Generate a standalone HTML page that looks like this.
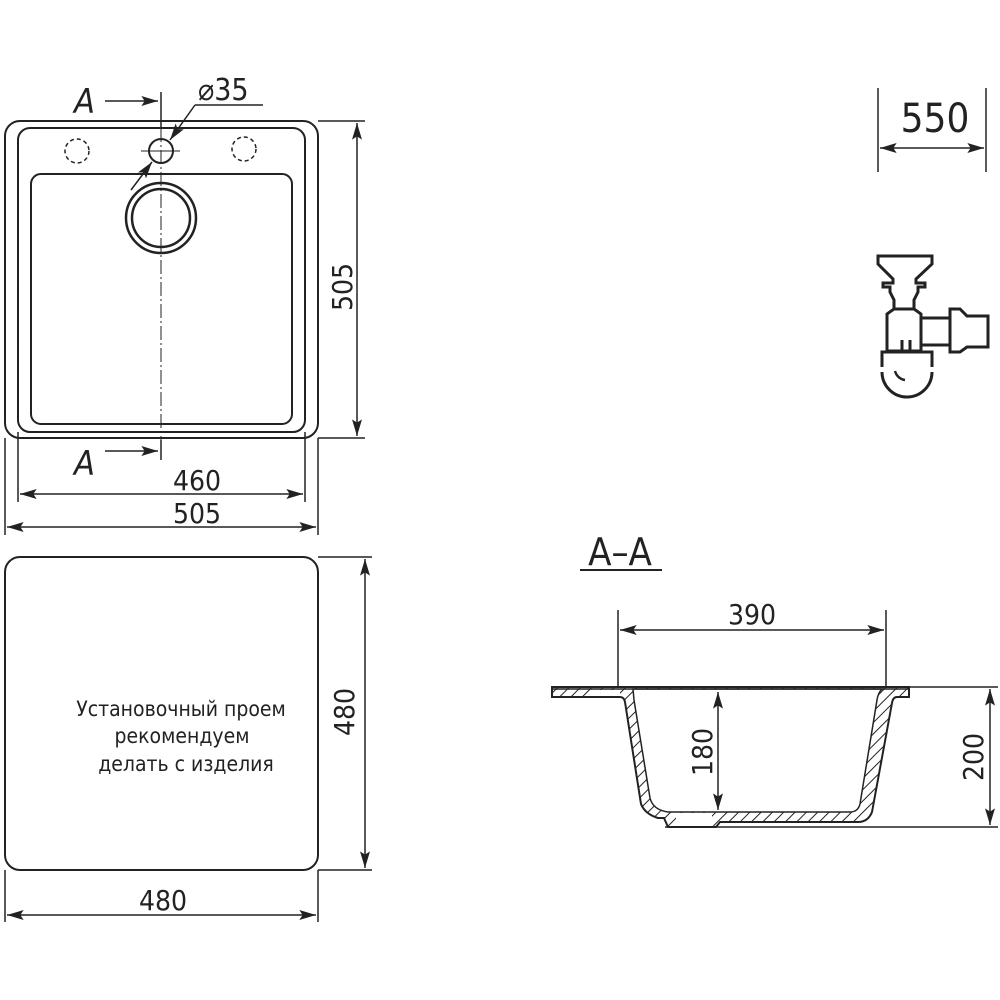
<!DOCTYPE html>
<html><head><meta charset="utf-8"><style>
html,body{margin:0;padding:0;background:#fff}
svg{display:block}
text{font-family:"DejaVu Sans Condensed","Liberation Sans Narrow","Liberation Sans",sans-serif;fill:#222}
</style></head><body>
<svg width="1000" height="1000" viewBox="0 0 1000 1000" xmlns="http://www.w3.org/2000/svg">
<defs>
<marker id="ar" viewBox="0 0 10 6" refX="10" refY="3" markerWidth="24" markerHeight="10" markerUnits="userSpaceOnUse" orient="auto-start-reverse"><path d="M0,0 L10,3 L0,6 L2,3z" fill="#222"/></marker>
<pattern id="h" width="8" height="8" patternUnits="userSpaceOnUse" patternTransform="rotate(45)"><rect width="8" height="8" fill="#fff"/><line x1="0" y1="0" x2="0" y2="8" stroke="#222" stroke-width="2"/></pattern>
</defs>
<g fill="none" stroke="#222" stroke-width="2">
<rect x="5" y="121" width="313" height="317" rx="15"/>
<rect x="18" y="128" width="287" height="304" rx="12"/>
<rect x="31" y="174" width="261" height="250" rx="10"/>
<circle cx="161" cy="218" r="35" stroke-width="2.5"/>
<circle cx="161" cy="218" r="29" stroke-width="2.5"/>
<circle cx="161" cy="151" r="12"/>
<circle cx="77" cy="151" r="12" stroke-dasharray="4,3" stroke-width="1.5"/>
<circle cx="244" cy="149" r="12" stroke-dasharray="4,3" stroke-width="1.5"/>
<line x1="161" y1="92" x2="161" y2="128" stroke-width="1.5"/>
<line x1="161" y1="128" x2="161" y2="460" stroke-width="1" stroke-dasharray="14,3,2,3"/>
<line x1="161" y1="440" x2="161" y2="460" stroke-width="1.5"/>
<line x1="141" y1="151" x2="180" y2="151" stroke-width="1"/>
<line x1="105" y1="101" x2="158" y2="101" stroke-width="1.5" marker-end="url(#ar)"/>
<line x1="105" y1="451" x2="158" y2="451" stroke-width="1.5" marker-end="url(#ar)"/>
<line x1="195" y1="105" x2="263" y2="105" stroke-width="1.5"/>
<line x1="195" y1="105" x2="170" y2="140" stroke-width="1.5" marker-end="url(#ar)"/>
<line x1="131" y1="190" x2="152" y2="162" stroke-width="1.5" marker-end="url(#ar)"/>
<line x1="318" y1="121" x2="365" y2="121" stroke-width="1.5"/>
<line x1="318" y1="438" x2="365" y2="438" stroke-width="1.5"/>
<line x1="357" y1="123" x2="357" y2="436" stroke-width="1.5" marker-start="url(#ar)" marker-end="url(#ar)"/>
<line x1="18" y1="432" x2="18" y2="502" stroke-width="1.5"/>
<line x1="305" y1="432" x2="305" y2="502" stroke-width="1.5"/>
<line x1="5" y1="438" x2="5" y2="535" stroke-width="1.5"/>
<line x1="318" y1="438" x2="318" y2="535" stroke-width="1.5"/>
<line x1="20" y1="494" x2="303" y2="494" stroke-width="1.5" marker-start="url(#ar)" marker-end="url(#ar)"/>
<line x1="7" y1="527" x2="316" y2="527" stroke-width="1.5" marker-start="url(#ar)" marker-end="url(#ar)"/>
<rect x="5" y="557" width="313" height="313" rx="15"/>
<line x1="318" y1="557" x2="372" y2="557" stroke-width="1.5"/>
<line x1="318" y1="870" x2="372" y2="870" stroke-width="1.5"/>
<line x1="365" y1="559" x2="365" y2="868" stroke-width="1.5" marker-start="url(#ar)" marker-end="url(#ar)"/>
<line x1="5" y1="870" x2="5" y2="922" stroke-width="1.5"/>
<line x1="318" y1="870" x2="318" y2="922" stroke-width="1.5"/>
<line x1="7" y1="915" x2="316" y2="915" stroke-width="1.5" marker-start="url(#ar)" marker-end="url(#ar)"/>
<line x1="878" y1="88" x2="878" y2="172" stroke-width="1.5"/>
<line x1="986" y1="88" x2="986" y2="172" stroke-width="1.5"/>
<line x1="880" y1="148" x2="984" y2="148" stroke-width="1.5" marker-start="url(#ar)" marker-end="url(#ar)"/>
<g stroke-width="3">
<path d="M878,256 L932,256 L932,264 L916,279 L916,283 L925,283 L925,287 L918,287 L918,292 L914,300 L914,309 L921,314 L921,351 L887,351 L887,314 L894,309 L894,300 L890,292 L890,287 L883,287 L883,283 L893,283 L893,279 L878,264 Z"/>
<line x1="894" y1="309" x2="914" y2="309"/>
<path d="M921,318 L950,318 L950,309 L960,309 L967,316 L988,316 L988,347 L967,347 L960,352 L950,352 L950,345 L921,345"/>
<line x1="950" y1="318" x2="950" y2="345"/>
<path d="M882,367 L882,352 L932,352 L932,367"/>
<path d="M882,372 A25,25 0 0 0 932,372"/>
<path d="M895,371 A12,12 0 0 0 905,380" stroke-width="2.5"/>
<line x1="902" y1="340" x2="902" y2="351"/>
<line x1="910" y1="340" x2="910" y2="351"/>
</g>
<line x1="580" y1="570" x2="662" y2="570" stroke-width="2"/>
<line x1="618" y1="610" x2="618" y2="690" stroke-width="1.5"/>
<line x1="886" y1="610" x2="886" y2="690" stroke-width="1.5"/>
<line x1="620" y1="630" x2="884" y2="630" stroke-width="1.5" marker-start="url(#ar)" marker-end="url(#ar)"/>
<line x1="905" y1="687" x2="998" y2="687" stroke-width="1.5"/>
<line x1="665" y1="827" x2="998" y2="827" stroke-width="1.5"/>
<line x1="990" y1="689" x2="990" y2="825" stroke-width="1.5" marker-start="url(#ar)" marker-end="url(#ar)"/>
</g>
<path d="M552,687 L909,687 L909,697 L897,697 Q893,697 892,703 L872,812 Q868,822 858,822 L720,822 L716,827 L668,827 L664,818 L658,818 Q645,814 641,804 L625,702 Q624,697 620,697 L552,697 Z" fill="url(#h)" stroke="#222" stroke-width="2"/>
<path d="M633,689 L882,689 Q878,693 877,700 L860,804 Q858,812 850,812 L668,812 Q653,810 650,798 L634,700 Z" fill="#fff" stroke="#222" stroke-width="1.5"/>
<line x1="552" y1="689" x2="909" y2="689" stroke="#222" stroke-width="1.5"/>
<rect x="594" y="690" width="26" height="6" fill="#fff" stroke="none"/>
<rect x="676" y="813" width="36" height="13" fill="#fff" stroke="none"/>
<line x1="718" y1="692" x2="718" y2="810" stroke="#222" stroke-width="1.5" marker-start="url(#ar)" marker-end="url(#ar)"/>
<g font-size="30">
<text x="74" y="113" font-style="italic" font-size="34">A</text>
<text x="74" y="475" font-style="italic" font-size="34">A</text>
<text x="198" y="100">⌀35</text>
<text x="197" y="490" text-anchor="middle" font-size="28">460</text>
<text x="197" y="523" text-anchor="middle" font-size="28">505</text>
<text x="163" y="910" text-anchor="middle" font-size="28">480</text>
<text x="935" y="132" text-anchor="middle" font-size="40">550</text>
<text x="620" y="565" text-anchor="middle" font-size="38">A–A</text>
<text x="752" y="624" text-anchor="middle" font-size="28">390</text>
<text transform="translate(352,287) rotate(-90)" text-anchor="middle" font-size="28">505</text>
<text transform="translate(354,712) rotate(-90)" text-anchor="middle" font-size="28">480</text>
<text transform="translate(712,752) rotate(-90)" text-anchor="middle" font-size="28">180</text>
<text transform="translate(983,757) rotate(-90)" text-anchor="middle" font-size="28">200</text>
</g>
<g font-size="21" text-anchor="middle">
<text x="181" y="716">Установочный проем</text>
<text x="182" y="743">рекомендуем</text>
<text x="186" y="771">делать с изделия</text>
</g>
</svg>
</body></html>
